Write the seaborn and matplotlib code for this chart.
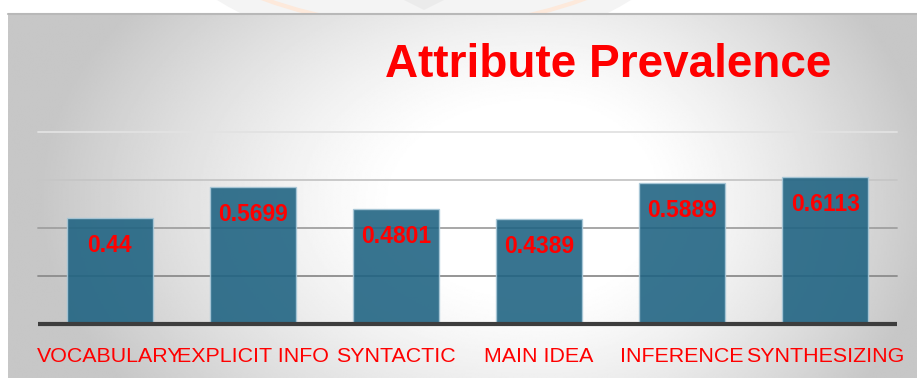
import numpy as np
import matplotlib
matplotlib.use("Agg")
import matplotlib.pyplot as plt
from matplotlib.patches import Circle, Polygon
import seaborn as sns

# Chart data
categories = ["VOCABULARY", "EXPLICIT INFO", "SYNTACTIC", "MAIN IDEA", "INFERENCE", "SYNTHESIZING"]
prevalence = [0.44, 0.5699, 0.4801, 0.4389, 0.5889, 0.6113]
grid_levels = [0.2, 0.4, 0.6, 0.8]
title_text = "Attribute Prevalence"

W, H = 917, 378
sns.set_theme(style="white")
plt.rcParams["font.family"] = ["Liberation Sans", "DejaVu Sans"]

fig = plt.figure(figsize=(W / 100, H / 100), dpi=100)
fig.patch.set_facecolor("white")

# Background layer in pixel units
bg = fig.add_axes([0, 0, 1, 1])
bg.axis("off")

# faint emblem peeking above the panel
bg.add_patch(Circle((424, -341), 399, facecolor="#f4f4f4", edgecolor="none", zorder=0))
bg.add_patch(Circle((424, -445), 472, facecolor="none", edgecolor="#fde9db", lw=3, zorder=0.5))
bg.add_patch(Polygon([(404, 0), (444, 0), (424, 10)], closed=True, facecolor="#ebebeb",
                     edgecolor="none", zorder=0.6))

# panel with radial grey gradient
px0, py0 = 8, 13
xs = np.linspace(px0, W, 600)
ys = np.linspace(py0, H, 260)
X, Y = np.meshgrid(xs, ys)
cx, cy = 540, 200
rx = np.where(X < cx, 500.0, 390.0)
ry = 330.0
r = np.hypot((X - cx) / rx, (Y - cy) / ry)
t = np.clip((r - 0.28) / 0.72, 0, 1)
shade = 1 - 0.22 * t ** 1.25
bg.imshow(shade, extent=(px0, W, H, py0), cmap="gray", vmin=0, vmax=1,
          aspect="auto", interpolation="bilinear", zorder=1)
bg.plot([px0, W], [py0 + 0.5, py0 + 0.5], color="#b8b8b8", lw=1.5, zorder=2)
bg.set_xlim(0, W)
bg.set_ylim(H, 0)

# Bar chart
ax = fig.add_axes([38 / W, (H - 324) / H, 859 / W, 192 / H])
ax.patch.set_alpha(0)
sns.barplot(x=categories, y=prevalence, color="#1f6382", saturation=1, width=0.6,
            alpha=0.89, edgecolor="#a9c8d8", linewidth=1.0, ax=ax, zorder=3)
ax.set_xlim(-0.5, 5.5)
ax.set_ylim(0, 0.8)

grid_colors = ["#8c8c8c", "#a0a0a0", "#c6c6c6", "#e2e2e2"]
for level, c in zip(grid_levels, grid_colors):
    ax.axhline(level, color=c, lw=1.3, zorder=1, clip_on=False)
ax.axhline(0, color="#3d3d3d", lw=3, zorder=4, clip_on=False, solid_capstyle="butt")

for i, v in enumerate(prevalence):
    ax.annotate(f"{v:g}", xy=(i, v), xytext=(0, -24.5), textcoords="offset points",
                ha="center", va="baseline", color="red", fontsize=16.5,
                fontweight="bold", zorder=5)

ax.set_yticks([])
ax.set_xlabel("")
ax.set_ylabel("")
for s in ax.spines.values():
    s.set_visible(False)
ax.tick_params(axis="x", length=0, pad=27.1, labelsize=15.4, labelcolor="red")
for lbl in ax.get_xticklabels():
    lbl.set_verticalalignment("baseline")

fig.text(608 / W, 1 - 77 / H, title_text, ha="center", va="baseline", color="red",
         fontsize=33, fontweight="bold")

fig.savefig("out.png", dpi=100)
